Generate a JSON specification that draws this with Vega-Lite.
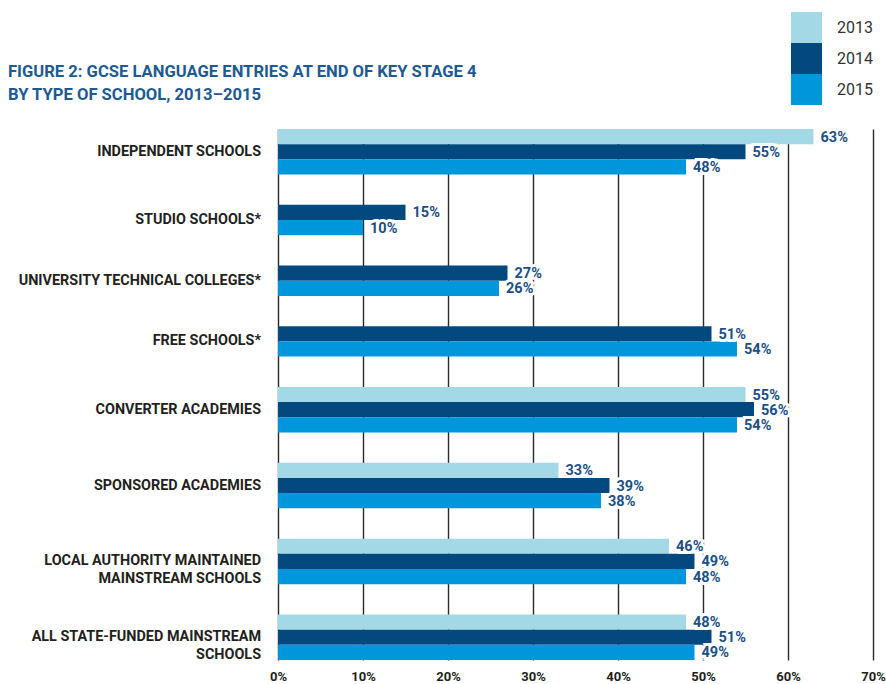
{
  "$schema": "https://vega.github.io/schema/vega-lite/v6.json",
  "width": 595,
  "height": 531,
  "autosize": {"type": "none"},
  "padding": {"left": 278, "top": 129, "right": 13, "bottom": 24},
  "background": "white",
  "title": {
    "text": ["FIGURE 2: GCSE LANGUAGE ENTRIES AT END OF KEY STAGE 4", "BY TYPE OF SCHOOL, 2013–2015"],
    "anchor": "start",
    "frame": "group",
    "dx": -270,
    "dy": 118,
    "offset": 26,
    "font": "Roboto",
    "fontSize": 16.6,
    "fontWeight": "bold",
    "color": "#1d5a95",
    "lineHeight": 23
  },
  "data": {
    "values": [
      {"school": "INDEPENDENT SCHOOLS", "year": "2013", "value": 63},
      {"school": "INDEPENDENT SCHOOLS", "year": "2014", "value": 55},
      {"school": "INDEPENDENT SCHOOLS", "year": "2015", "value": 48},
      {"school": "STUDIO SCHOOLS*", "year": "2014", "value": 15},
      {"school": "STUDIO SCHOOLS*", "year": "2015", "value": 10},
      {"school": "UNIVERSITY TECHNICAL COLLEGES*", "year": "2014", "value": 27},
      {"school": "UNIVERSITY TECHNICAL COLLEGES*", "year": "2015", "value": 26},
      {"school": "FREE SCHOOLS*", "year": "2014", "value": 51},
      {"school": "FREE SCHOOLS*", "year": "2015", "value": 54},
      {"school": "CONVERTER ACADEMIES", "year": "2013", "value": 55},
      {"school": "CONVERTER ACADEMIES", "year": "2014", "value": 56},
      {"school": "CONVERTER ACADEMIES", "year": "2015", "value": 54},
      {"school": "SPONSORED ACADEMIES", "year": "2013", "value": 33},
      {"school": "SPONSORED ACADEMIES", "year": "2014", "value": 39},
      {"school": "SPONSORED ACADEMIES", "year": "2015", "value": 38},
      {"school": "LOCAL AUTHORITY MAINTAINED\nMAINSTREAM SCHOOLS", "year": "2013", "value": 46},
      {"school": "LOCAL AUTHORITY MAINTAINED\nMAINSTREAM SCHOOLS", "year": "2014", "value": 49},
      {"school": "LOCAL AUTHORITY MAINTAINED\nMAINSTREAM SCHOOLS", "year": "2015", "value": 48},
      {"school": "ALL STATE-FUNDED MAINSTREAM\nSCHOOLS", "year": "2013", "value": 48},
      {"school": "ALL STATE-FUNDED MAINSTREAM\nSCHOOLS", "year": "2014", "value": 51},
      {"school": "ALL STATE-FUNDED MAINSTREAM\nSCHOOLS", "year": "2015", "value": 49}
    ]
  },
  "transform": [
    {"calculate": "datum.school + '|' + datum.year", "as": "key"},
    {"joinaggregate": [{"op": "count", "as": "n"}], "groupby": ["school"]}
  ],
  "encoding": {
    "y": {
      "field": "key",
      "type": "nominal",
      "axis": null,
      "sort": null,
      "scale": {
        "domain": [
          "INDEPENDENT SCHOOLS|2013", "INDEPENDENT SCHOOLS|2014", "INDEPENDENT SCHOOLS|2015",
          "gap1", "gap2",
          "STUDIO SCHOOLS*|2014", "STUDIO SCHOOLS*|2015",
          "gap3", "gap4",
          "UNIVERSITY TECHNICAL COLLEGES*|2014", "UNIVERSITY TECHNICAL COLLEGES*|2015",
          "gap5", "gap6",
          "FREE SCHOOLS*|2014", "FREE SCHOOLS*|2015",
          "gap7", "gap8",
          "CONVERTER ACADEMIES|2013", "CONVERTER ACADEMIES|2014", "CONVERTER ACADEMIES|2015",
          "gap9", "gap10",
          "SPONSORED ACADEMIES|2013", "SPONSORED ACADEMIES|2014", "SPONSORED ACADEMIES|2015",
          "gap11", "gap12",
          "LOCAL AUTHORITY MAINTAINED\nMAINSTREAM SCHOOLS|2013", "LOCAL AUTHORITY MAINTAINED\nMAINSTREAM SCHOOLS|2014", "LOCAL AUTHORITY MAINTAINED\nMAINSTREAM SCHOOLS|2015",
          "gap13", "gap14",
          "ALL STATE-FUNDED MAINSTREAM\nSCHOOLS|2013", "ALL STATE-FUNDED MAINSTREAM\nSCHOOLS|2014", "ALL STATE-FUNDED MAINSTREAM\nSCHOOLS|2015"
        ],
        "paddingInner": 0,
        "paddingOuter": 0
      }
    }
  },
  "layer": [
    {
      "mark": {"type": "bar"},
      "encoding": {
        "x": {
          "field": "value",
          "type": "quantitative",
          "scale": {"domain": [0, 70], "nice": false, "zero": true},
          "axis": {
            "values": [0, 10, 20, 30, 40, 50, 60, 70],
            "labelExpr": "datum.value + '%'",
            "grid": true,
            "gridColor": "#2a2a2a",
            "gridWidth": 1.4,
            "ticks": false,
            "domain": false,
            "title": null,
            "labelFont": "Roboto",
            "labelFontSize": 13,
            "labelFontWeight": "bold",
            "labelColor": "#231f20",
            "labelPadding": 10,
            "labelFlush": false
          }
        },
        "color": {
          "field": "year",
          "type": "nominal",
          "scale": {"domain": ["2013", "2014", "2015"], "range": ["#a3d8e6", "#03497f", "#0096db"]},
          "legend": {
            "orient": "none",
            "legendX": 513,
            "legendY": -117,
            "title": null,
            "symbolType": "square",
            "symbolSize": 961,
            "symbolStrokeWidth": 0,
            "symbolOpacity": 1,
            "rowPadding": 0,
            "padding": 0,
            "labelFont": "Roboto",
            "labelFontSize": 16,
            "labelColor": "#333333",
            "labelOffset": 15
          }
        }
      }
    },
    {
      "mark": {"type": "text", "align": "left", "baseline": "middle", "dx": 7, "dy": 1, "font": "Roboto", "fontSize": 14.5, "fontWeight": "bold", "color": "white", "stroke": "white", "strokeWidth": 6},
      "encoding": {
        "x": {"field": "value", "type": "quantitative"},
        "text": {"value": {"expr": "datum.value + '%'"}}
      }
    },
    {
      "mark": {"type": "text", "align": "left", "baseline": "middle", "dx": 7, "dy": 1, "font": "Roboto", "fontSize": 14.5, "fontWeight": "bold", "color": "#1b4f87"},
      "encoding": {
        "x": {"field": "value", "type": "quantitative"},
        "text": {"value": {"expr": "datum.value + '%'"}}
      }
    },
    {
      "transform": [{"filter": "datum.year == '2014' && datum.n == 3"}],
      "mark": {"type": "text", "align": "right", "baseline": "middle", "dx": -17, "font": "Roboto", "fontSize": 14.4, "fontWeight": "bold", "color": "#231f20", "lineBreak": "\n", "lineHeight": 18},
      "encoding": {
        "x": {"datum": 0, "type": "quantitative"},
        "y": {"field": "key", "type": "nominal", "bandPosition": 0.5},
        "text": {"field": "school"}
      }
    },
    {
      "transform": [{"filter": "datum.year == '2014' && datum.n == 2"}],
      "mark": {"type": "text", "align": "right", "baseline": "middle", "dx": -17, "font": "Roboto", "fontSize": 14.4, "fontWeight": "bold", "color": "#231f20", "lineBreak": "\n", "lineHeight": 18},
      "encoding": {
        "x": {"datum": 0, "type": "quantitative"},
        "y": {"field": "key", "type": "nominal", "bandPosition": 1},
        "text": {"field": "school"}
      }
    }
  ],
  "config": {"view": {"stroke": null}}
}
